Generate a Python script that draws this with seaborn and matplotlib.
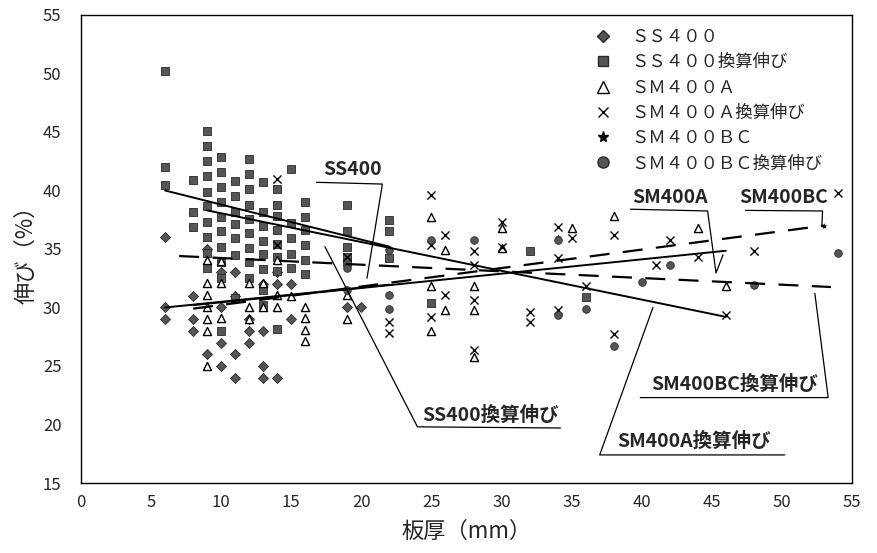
import numpy as np
import pandas as pd
import seaborn as sns
import matplotlib
matplotlib.use("Agg")
import matplotlib.pyplot as plt
from matplotlib.lines import Line2D

# ---------------- data ----------------
ss400_x = [6, 6, 6, 8, 8, 8, 9, 9, 10, 10, 10, 10, 11, 11, 11, 11, 12, 12, 12,
           13, 13, 13, 13, 14, 14, 14, 15, 15, 19, 20]
ss400_y = [36.0, 30.0, 29.0, 31.0, 29.0, 28.0, 35.0, 26.0, 33.0, 30.0, 27.0, 25.0,
           33.0, 31.0, 26.0, 24.0, 29.0, 28.0, 27.0, 32.0, 28.0, 25.0, 24.0,
           33.0, 32.0, 24.0, 32.0, 29.0, 30.0, 30.0]

ss400c_x = [6, 6, 6, 8, 8, 8,
            9, 9, 9, 9, 9, 9, 9, 9, 9, 9,
            10, 10, 10, 10, 10, 10, 10, 10, 10, 10,
            11, 11, 11, 11, 11, 11, 11,
            12, 12, 12, 12, 12, 12, 12, 12, 12,
            13, 13, 13, 13, 13, 13, 13, 13,
            14, 14, 14, 14, 14, 14, 14, 14,
            15, 15, 15, 15, 15,
            16, 16, 16, 16, 16, 16,
            19, 19, 19, 19, 19, 22, 22, 22, 25, 32, 36]
ss400c_y = [50.2, 42.0, 40.5, 40.9, 38.2, 36.9,
            45.1, 43.8, 42.5, 41.2, 39.9, 38.7, 37.3, 36.0, 34.7, 33.4,
            42.9, 41.6, 40.3, 39.0, 37.7, 36.5, 35.2, 33.9, 32.5, 28.0,
            40.8, 39.5, 38.2, 37.1, 35.9, 34.5, 30.8,
            42.7, 41.4, 40.1, 38.8, 37.6, 36.4, 35.1, 33.9, 32.5,
            40.7, 38.2, 37.0, 35.7, 34.6, 33.3, 31.5, 30.2,
            40.1, 38.8, 37.8, 36.6, 35.4, 34.3, 33.1, 28.2,
            41.8, 37.2, 35.9, 34.6, 33.4,
            39.0, 37.7, 36.6, 35.3, 34.1, 32.9,
            38.8, 36.5, 35.2, 34.3, 33.9, 37.5, 36.5, 34.2, 30.4, 34.8, 30.9]

sm400a_x = [9, 9, 9, 9, 9, 9, 9, 10, 10, 10, 12, 12, 12, 13, 13, 14, 14, 14, 15,
            16, 16, 16, 16, 19, 19, 25, 25, 25, 26, 26, 28, 28, 28, 30, 30, 35, 38, 44, 46]
sm400a_y = [34.1, 32.1, 31.1, 30.0, 29.0, 28.0, 25.0, 34.0, 32.1, 29.1, 32.1, 30.0, 29.0,
            32.1, 30.0, 34.1, 31.1, 30.0, 31.0, 30.0, 29.1, 28.1, 27.1, 31.1, 29.0,
            37.7, 31.8, 28.0, 34.9, 29.8, 31.8, 29.8, 25.8, 36.8, 35.1, 36.8, 37.8, 36.8, 31.8]

sm400ac_x = [14, 14, 19, 22, 22, 25, 25, 25, 26, 26, 28, 28, 28, 28, 30, 30, 32, 32,
             34, 34, 34, 35, 36, 38, 38, 41, 42, 44, 46, 48, 54]
sm400ac_y = [41.0, 35.3, 34.3, 28.8, 27.8, 39.6, 35.3, 29.2, 36.2, 31.1, 34.8, 33.6, 30.6, 26.4,
             37.3, 35.2, 29.6, 28.8, 36.9, 34.2, 29.8, 35.9, 31.8, 36.2, 27.7, 33.6, 35.8,
             34.3, 29.4, 34.8, 39.8]

sm400bc_x = [34, 53]
sm400bc_y = [36.0, 37.0]

sm400bcc_x = [19, 19, 22, 22, 22, 25, 28, 34, 34, 36, 38, 40, 42, 48, 54]
sm400bcc_y = [33.4, 31.5, 34.9, 31.1, 29.9, 35.8, 35.8, 35.8, 29.4, 29.9, 26.7, 32.2, 33.6, 31.9, 34.7]

# regression lines (end points)
fit_ss400_x = [6, 22];      fit_ss400_y = [30.0, 31.95]
fit_ss400c_x = [6, 22];     fit_ss400c_y = [40.0, 35.2]
fit_sm400a_x = [8, 46];     fit_sm400a_y = [30.2, 34.85]
fit_sm400ac_x = [9, 46];    fit_sm400ac_y = [38.3, 29.2]
fit_sm400bc_x = [8, 53];    fit_sm400bc_y = [29.9, 37.0]
fit_sm400bcc_x = [7, 53.5]; fit_sm400bcc_y = [34.4, 31.75]

legend_labels = ["ＳＳ４００", "ＳＳ４００換算伸び", "ＳＭ４００Ａ",
                 "ＳＭ４００Ａ換算伸び", "ＳＭ４００ＢＣ", "ＳＭ４００ＢＣ換算伸び"]
x_ticks = [0, 5, 10, 15, 20, 25, 30, 35, 40, 45, 50, 55]
y_ticks = [15, 20, 25, 30, 35, 40, 45, 50, 55]
x_label = "板厚（mm）"
y_label = "伸び（%）"

# ---------------- style ----------------
sns.set_theme(style="white")
plt.rcParams['font.family'] = ['Noto Sans CJK JP', 'DejaVu Sans']
narrow = ['Liberation Sans Narrow', 'Noto Sans CJK JP', 'DejaVu Sans']

fig = plt.figure(figsize=(8.78, 5.53), dpi=100)
ax = fig.add_axes([81/878, 1-483/553, 771/878, 468/553])

gray = "#555555"
series = [
    (ss400_x, ss400_y, dict(marker="D", s=26, color=gray, edgecolor="#2a2a2a", linewidth=0.6)),
    (ss400c_x, ss400c_y, dict(marker="s", s=34, color=gray, edgecolor="#2a2a2a", linewidth=0.6)),
    (sm400a_x, sm400a_y, dict(marker="^", s=34, facecolor="white", edgecolor="black", linewidth=1.0)),
    (sm400ac_x, sm400ac_y, dict(marker="x", s=34, color="black", linewidth=1.0)),
    (sm400bc_x, sm400bc_y, dict(marker="*", s=40, color="black", linewidth=0.5)),
    (sm400bcc_x, sm400bcc_y, dict(marker="o", s=30, color=gray, edgecolor="#2a2a2a", linewidth=0.6)),
]
for xs, ys, kw in series:
    sns.scatterplot(x=xs, y=ys, ax=ax, legend=False, zorder=3, **kw)

solid = dict(color="black", lw=1.4, zorder=4)
dashed = dict(color="black", lw=1.6, dashes=(9, 6), zorder=4)
sns.lineplot(x=fit_ss400_x, y=fit_ss400_y, ax=ax, **solid)
sns.lineplot(x=fit_ss400c_x, y=fit_ss400c_y, ax=ax, **solid)
sns.lineplot(x=fit_sm400a_x, y=fit_sm400a_y, ax=ax, **solid)
sns.lineplot(x=fit_sm400ac_x, y=fit_sm400ac_y, ax=ax, **solid)
sns.lineplot(x=fit_sm400bc_x, y=fit_sm400bc_y, ax=ax, **dashed)
sns.lineplot(x=fit_sm400bcc_x, y=fit_sm400bcc_y, ax=ax, **dashed)

ax.set_xlim(0, 55)
ax.set_ylim(15, 55)
ax.set_xticks(x_ticks)
ax.set_yticks(y_ticks)
ax.set_xticklabels([str(v) for v in x_ticks], family=narrow, fontsize=12)
ax.set_yticklabels([str(v) for v in y_ticks], family=narrow, fontsize=12)
ax.tick_params(axis="x", direction="in", length=3, width=0.6, color="#888888", pad=8)
ax.tick_params(axis="y", direction="in", length=3, width=0.6, color="#888888", pad=14)
for sp in ax.spines.values():
    sp.set_visible(True)
    sp.set_color("black")
    sp.set_linewidth(1.0)
ax.set_xlabel(x_label, fontsize=16, labelpad=6)
ax.set_ylabel(y_label, fontsize=16, labelpad=4)

# legend
handles = [
    Line2D([], [], ls="", marker="D", ms=6, mfc=gray, mec="#2a2a2a"),
    Line2D([], [], ls="", marker="s", ms=7, mfc=gray, mec="#2a2a2a"),
    Line2D([], [], ls="", marker="^", ms=8, mfc="white", mec="black"),
    Line2D([], [], ls="", marker="x", ms=7, mec="black", mew=1.0),
    Line2D([], [], ls="", marker="*", ms=8, mfc="black", mec="black"),
    Line2D([], [], ls="", marker="o", ms=8, mfc=gray, mec="#2a2a2a"),
]
ax.legend(handles, legend_labels, loc="upper left", bbox_to_anchor=(0.655, 0.987),
          frameon=False, fontsize=12.5, handletextpad=1.0, labelspacing=0.42,
          handlelength=1.2, borderaxespad=0)

# annotations
lw_lead = 0.9
def lead(xs, ys):
    ax.plot(xs, ys, color="black", lw=lw_lead, zorder=5)

ax.text(19.4, 41.0, "SS400", family=narrow, fontweight="bold", fontsize=14, ha="center", va="bottom")
lead([16.8, 21.5, 20.4], [40.7, 40.55, 32.5])

ax.text(42.0, 38.6, "SM400A", family=narrow, fontweight="bold", fontsize=14, ha="center", va="bottom")
lead([39.2, 44.7, 45.3, 45.8], [38.4, 38.25, 32.95, 34.5])

ax.text(50.1, 38.6, "SM400BC", family=narrow, fontweight="bold", fontsize=14, ha="center", va="bottom")
lead([47.4, 52.9, 52.85], [38.3, 38.25, 36.9])

ax.text(29.2, 20.0, "SS400換算伸び", family=narrow, fontweight="bold", fontsize=14, ha="center", va="bottom")
lead([17.4, 24.0, 34.2], [35.2, 19.8, 19.7])

ax.text(43.7, 17.7, "SM400A換算伸び", family=narrow, fontweight="bold", fontsize=14, ha="center", va="bottom")
lead([40.8, 37.0, 50.2], [30.0, 17.4, 17.4])

ax.text(46.6, 22.6, "SM400BC換算伸び", family=narrow, fontweight="bold", fontsize=14, ha="center", va="bottom")
lead([39.9, 53.3, 52.35], [22.3, 22.3, 31.2])

fig.savefig("out.png", dpi=100)
